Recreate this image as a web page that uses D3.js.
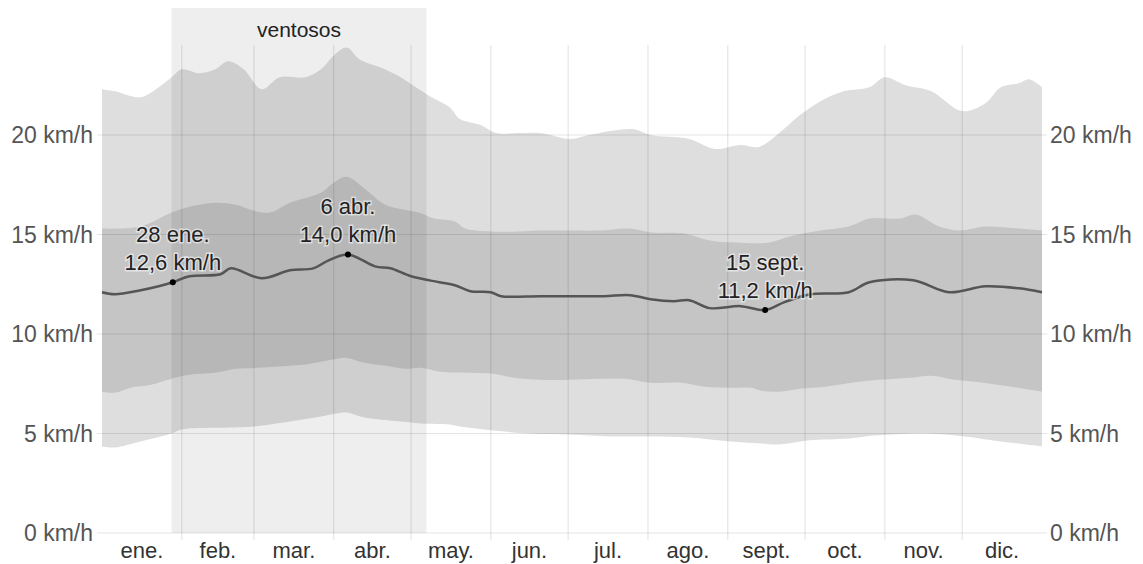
<!DOCTYPE html>
<html>
<head>
<meta charset="utf-8">
<script src="https://cdn.jsdelivr.net/npm/d3@7"></script>
<style>
  body { margin: 0; background: #fff; overflow: hidden; }
  svg { display: block; }
  text { font-family: "Liberation Sans", Arial, sans-serif; }
</style>
</head>
<body>
<div id="container"></div>
<script>
/* CONSTANTS AND GLOBALS */
const width = 1143;
const height = 564;

/* DATA */
const months = ["ene.", "feb.", "mar.", "abr.", "may.", "jun.", "jul.", "ago.", "sept.", "oct.", "nov.", "dic."];
const monthStarts = [0, 31, 59, 90, 120, 151, 181, 212, 243, 273, 304, 334, 365];
const yTicks = [0, 5, 10, 15, 20];

// windy season (ventosos): 28 ene. -> 7 may.
const windyDays = [27, 126];
const windyLabel = "ventosos";

// 90th percentile
const p90Days = [0,5,15,22,27,31,38,44,49,55,62,69,79,85,90,95,100,108,116,123,128,135,139,147,153,162,170,182,189,206,213,228,238,248,255,263,271,279,288,298,304,312,322,334,343,349,356,360,365];
const p90Kmh = [22.3,22.2,21.9,22.4,22.9,23.3,23.1,23.3,23.7,23.3,22.3,22.9,22.9,23.3,24.0,24.4,23.8,23.4,22.9,22.3,21.9,21.4,20.8,20.5,20.1,20.1,20.1,19.8,20.0,20.3,20.0,19.8,19.3,19.5,19.4,20.1,21.0,21.7,22.2,22.4,22.9,22.5,22.2,21.2,21.6,22.4,22.6,22.8,22.4];

// 75th percentile
const p75Days = [0,15,27,34,44,52,59,65,73,85,90,95,102,110,123,129,137,141,151,162,170,182,193,205,213,226,236,246,259,267,279,290,298,310,316,325,333,343,356,365];
const p75Kmh = [15.3,15.4,16.1,16.4,16.6,16.5,16.2,16.1,16.6,17.1,17.6,17.9,17.3,16.5,16.1,15.8,15.65,15.3,15.15,15.15,15.2,15.2,15.2,15.3,15.1,15.05,14.7,14.6,14.6,14.9,15.2,15.4,15.8,15.8,16.0,15.4,15.2,15.4,15.3,15.2];

// average wind speed
const meanDays = [0,5,15,22,27.5,34,46,50,62,73,82,88,95.5,106,112,120,131,137,143,151,155,170,182,195,205,213,222,228,236,248,257.5,265,275,290,298,315,329,343,356,365];
const meanKmh = [12.1,12.0,12.2,12.4,12.6,12.9,13.0,13.3,12.8,13.2,13.3,13.7,14.0,13.4,13.3,12.9,12.6,12.45,12.15,12.1,11.9,11.9,11.9,11.9,11.95,11.75,11.65,11.7,11.3,11.4,11.2,11.6,12.0,12.1,12.6,12.7,12.1,12.4,12.3,12.1];

// 25th percentile
const p25Days = [0,5,11,19,27,34,44,52,61,73,81,89,95,102,110,118,124,131,143,152,160,170,182,193,203,213,225,234,244,252,256,263,271,281,291,302,314,322,331,339,353,365];
const p25Kmh = [7.1,7.05,7.3,7.45,7.75,7.95,8.05,8.25,8.3,8.4,8.5,8.7,8.8,8.55,8.4,8.25,8.3,8.1,8.05,8.0,7.8,7.7,7.7,7.75,7.75,7.55,7.55,7.35,7.3,7.3,7.15,7.1,7.25,7.35,7.55,7.7,7.8,7.9,7.7,7.6,7.35,7.1];

// 10th percentile
const p10Days = [0,5,15,27,31,50,59,73,85,91,95,102,116,124,135,139,152,166,182,197,213,228,244,256,263,274,290,300,320,335,349,365];
const p10Kmh = [4.35,4.3,4.6,5.0,5.2,5.3,5.35,5.6,5.85,6.0,6.05,5.8,5.6,5.5,5.45,5.35,5.15,5.0,4.95,4.85,4.85,4.8,4.6,4.5,4.45,4.65,4.75,4.9,5.0,4.85,4.6,4.35];

// annotated points
const annoDays = [27.5, 95.5, 257.5];
const annoDates = ["28 ene.", "6 abr.", "15 sept."];
const annoKmh = [12.6, 14.0, 11.2];

const toPts = (days, vals) => days.map((d, i) => ({ d: d, v: vals[i] }));

/* SCALES */
const xScale = d3.scaleLinear().domain([0, 365]).range([102, 1042]);
const yScale = d3.scaleLinear().domain([0, 20]).range([533, 135]);

const svg = d3.select("#container")
  .append("svg")
  .attr("width", width)
  .attr("height", height);

const fmt = v => d3.format(".1f")(v).replace(".", ",");

// filled bands: each percentile curve down to 0, stacked from top to bottom
const area = d3.area()
  .x(d => xScale(d.d))
  .y0(yScale(0))
  .y1(d => yScale(d.v))
  .curve(d3.curveCatmullRom);

const bands = [
  { pts: toPts(p90Days, p90Kmh), fill: "#dedede" },
  { pts: toPts(p75Days, p75Kmh), fill: "#c5c5c5" },
  { pts: toPts(p25Days, p25Kmh), fill: "#dedede" },
  { pts: toPts(p10Days, p10Kmh), fill: "#ffffff" }
];

svg.selectAll(".band")
  .data(bands)
  .join("path")
  .attr("class", "band")
  .attr("d", d => area(d.pts))
  .attr("fill", d => d.fill);

// windy season overlay
svg.append("rect")
  .attr("x", xScale(windyDays[0]))
  .attr("y", 8)
  .attr("width", xScale(windyDays[1]) - xScale(windyDays[0]))
  .attr("height", yScale(0) - 8)
  .attr("fill", "#000")
  .attr("fill-opacity", 0.065);

svg.append("text")
  .attr("x", (xScale(windyDays[0]) + xScale(windyDays[1])) / 2)
  .attr("y", 37)
  .attr("text-anchor", "middle")
  .attr("font-size", 21)
  .attr("fill", "#222")
  .text(windyLabel);

// horizontal gridlines
svg.selectAll(".hgrid")
  .data(yTicks)
  .join("line")
  .attr("class", "hgrid")
  .attr("x1", 97)
  .attr("x2", 1047)
  .attr("y1", d => yScale(d))
  .attr("y2", d => yScale(d))
  .attr("stroke", "#000")
  .attr("stroke-opacity", 0.1);

// month gridlines
svg.selectAll(".vgrid")
  .data(monthStarts.slice(1, 12))
  .join("line")
  .attr("class", "vgrid")
  .attr("x1", d => xScale(d))
  .attr("x2", d => xScale(d))
  .attr("y1", 45)
  .attr("y2", 540)
  .attr("stroke", "#000")
  .attr("stroke-opacity", 0.12);

// y labels, both sides
svg.selectAll(".ylabL")
  .data(yTicks)
  .join("text")
  .attr("class", "ylabL")
  .attr("x", 93)
  .attr("y", d => yScale(d))
  .attr("dy", "0.35em")
  .attr("text-anchor", "end")
  .attr("font-size", 23)
  .attr("fill", "#555")
  .text(d => d + " km/h");

svg.selectAll(".ylabR")
  .data(yTicks)
  .join("text")
  .attr("class", "ylabR")
  .attr("x", 1050)
  .attr("y", d => yScale(d))
  .attr("dy", "0.35em")
  .attr("text-anchor", "start")
  .attr("font-size", 23)
  .attr("fill", "#555")
  .text(d => d + " km/h");

// month labels
svg.selectAll(".mlab")
  .data(months)
  .join("text")
  .attr("class", "mlab")
  .attr("x", (d, i) => xScale((monthStarts[i] + monthStarts[i + 1]) / 2))
  .attr("y", 558)
  .attr("text-anchor", "middle")
  .attr("font-size", 22)
  .attr("fill", "#333")
  .text(d => d);

// average line
const line = d3.line()
  .x(d => xScale(d.d))
  .y(d => yScale(d.v))
  .curve(d3.curveCatmullRom);

svg.append("path")
  .attr("d", line(toPts(meanDays, meanKmh)))
  .attr("fill", "none")
  .attr("stroke", "#555")
  .attr("stroke-width", 2.5);

// annotations
const annos = annoDays.map((d, i) => ({ d: d, v: annoKmh[i], date: annoDates[i] }));

svg.selectAll(".dot")
  .data(annos)
  .join("circle")
  .attr("class", "dot")
  .attr("cx", d => xScale(d.d))
  .attr("cy", d => yScale(d.v))
  .attr("r", 3)
  .attr("fill", "#000");

const lab = svg.selectAll(".anno")
  .data(annos)
  .join("text")
  .attr("class", "anno")
  .attr("text-anchor", "middle")
  .attr("font-size", 22)
  .attr("fill", "#222")
  .attr("stroke", "#fff")
  .attr("stroke-opacity", 0.5)
  .attr("stroke-width", 3)
  .attr("paint-order", "stroke");

lab.append("tspan")
  .attr("x", d => xScale(d.d))
  .attr("y", d => yScale(d.v) - 40)
  .text(d => d.date);

lab.append("tspan")
  .attr("x", d => xScale(d.d))
  .attr("y", d => yScale(d.v) - 12)
  .text(d => fmt(d.v) + " km/h");
</script>
</body>
</html>
